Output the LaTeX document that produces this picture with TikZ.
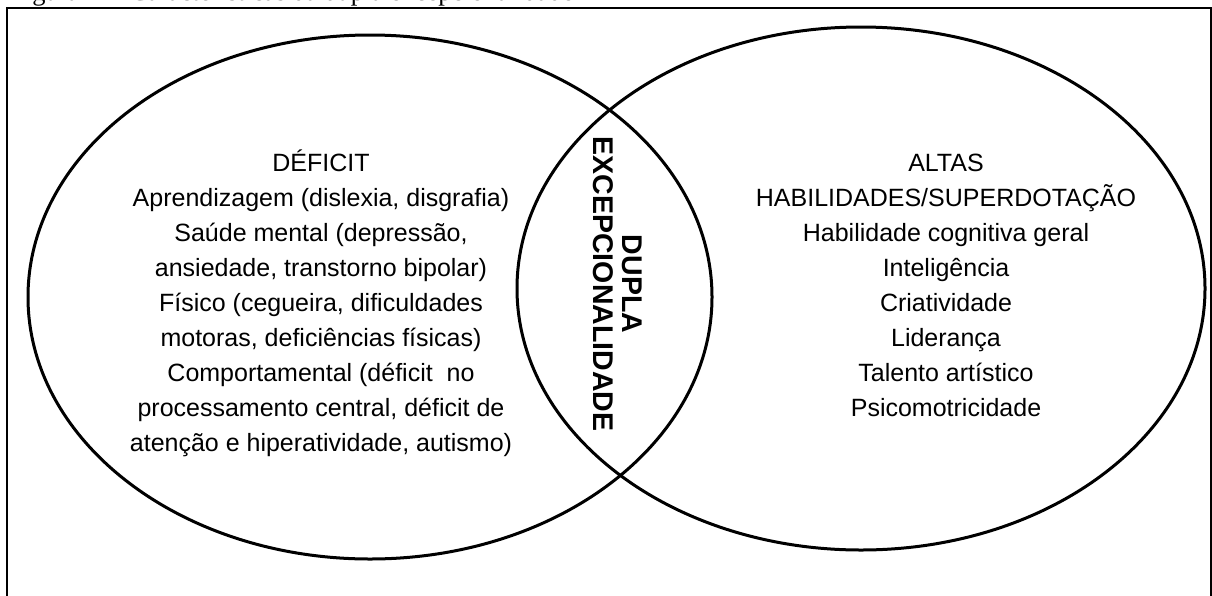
\documentclass[tikz,border=0pt]{standalone}
\usepackage{fontspec}
\setmainfont{Liberation Sans}
\newfontfamily\capfont{Liberation Serif}
\usetikzlibrary{shapes.geometric}
\tikzset{
  set/.style={draw, ellipse, line width=3pt, inner sep=0pt},
  body/.style={align=center, font=\fontsize{25}{35}\selectfont},
  mid/.style={align=center, rotate=-90, font=\fontsize{28.5}{29}\selectfont\bfseries},
}
\begin{document}
\begin{tikzpicture}[x=1pt, y=-1pt]
\useasboundingbox (0,0) rectangle (1212,595);
\node[anchor=base west, inner sep=0pt, font=\fontsize{26.5}{30}\capfont] (cap) at (10,0.5) {Figura 1 -- Características da dupla excepcionalidade};
\draw[line width=2.5pt] (7,640) -- (7,8) -- (1211,8) -- (1211,640);
\node[set, minimum width=684pt, minimum height=524pt] (L) at (370,297) {};
\node[set, minimum width=688pt, minimum height=523pt] (R) at (861,288.5) {};
\node[body] (lt) at (321,303) {DÉFICIT\\Aprendizagem (dislexia, disgrafia)\\Saúde mental (depressão,\\ansiedade, transtorno bipolar)\\Físico (cegueira, dificuldades\\motoras, deficiências físicas)\\Comportamental (déficit\ \ no\\processamento central, déficit de\\atenção e hiperatividade, autismo)};
\node[body] (rt) at (946,285) {ALTAS\\HABILIDADES/SUPERDOTAÇÃO\\Habilidade cognitiva geral\\Inteligência\\Criatividade\\Liderança\\Talento artístico\\Psicomotricidade};
\node[mid] (dx) at (618,284) {DUPLA\\EXCEPCIONALIDADE};
\end{tikzpicture}
\end{document}
